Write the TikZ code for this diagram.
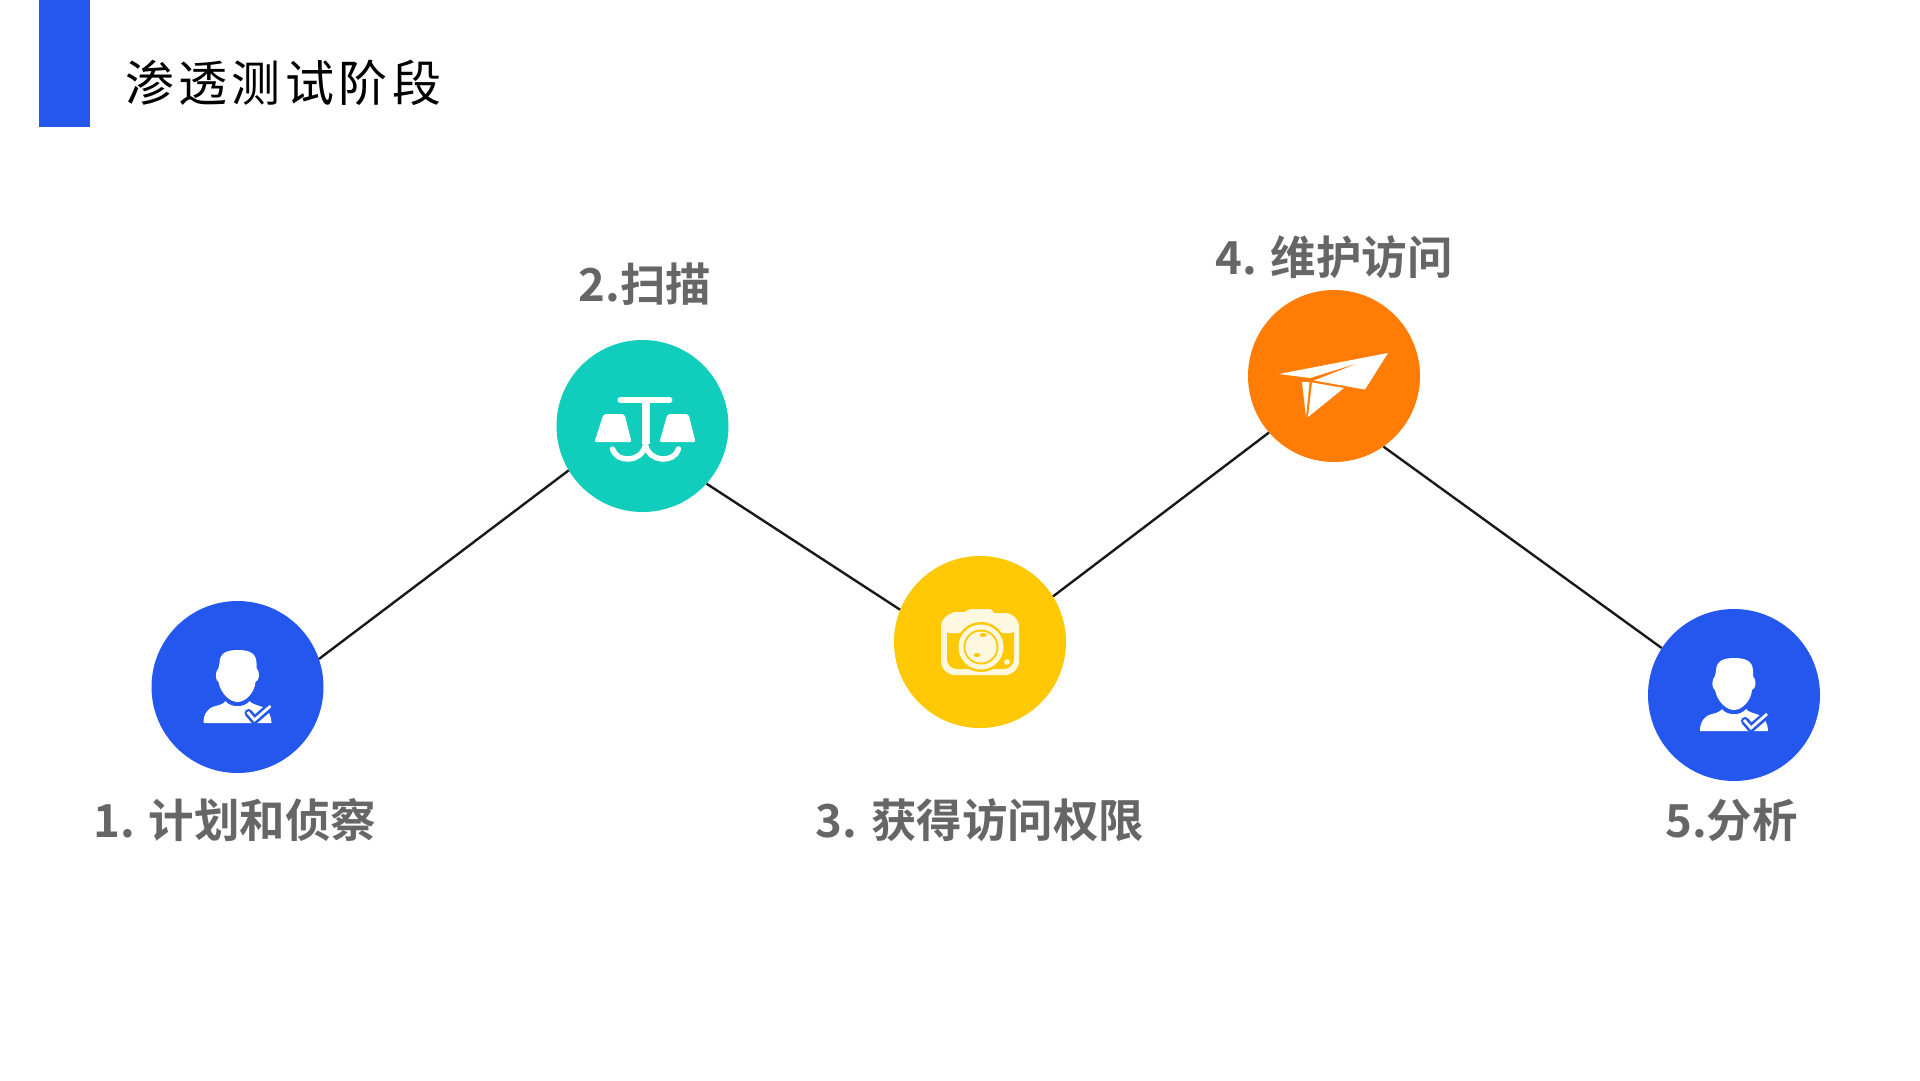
\documentclass[tikz,border=0pt]{standalone}
\usepackage{fontspec}
\setmainfont{Liberation Sans}
\newfontfamily\cjkbold{Noto Sans CJK SC}[BoldFont={Noto Sans CJK SC Bold}]
\newfontfamily\cjktitle{Noto Sans CJK SC}[LetterSpace=9]
\definecolor{cblue}{HTML}{2457EE}
\definecolor{cteal}{HTML}{10CDBC}
\definecolor{cyellow}{HTML}{FFC805}
\definecolor{corange}{HTML}{FF7D05}
\definecolor{cgray}{HTML}{666666}
\colorlet{palewhite}{white!88!cyellow}
\tikzset{
  stage/.style={circle,minimum size=172pt,inner sep=0pt,fill=#1},
  stagelabel/.style={text=cgray,inner sep=0pt,font=\cjkbold\bfseries\fontsize{45.5}{50}\selectfont},
  link/.style={draw=black!90,line width=2.4pt}
}
\begin{document}
\begin{tikzpicture}[x=1pt,y=-1pt]
\useasboundingbox (0,0) rectangle (1920,1080);
\fill[white] (0,0) rectangle (1920,1080);
\fill[cblue] (39,0) rectangle (90,127);
\node[anchor=west,inner sep=0pt,font=\cjktitle\fontsize{49}{54}\selectfont] (title) at (125,82.5) {渗透测试阶段};

\node[stage=cblue] (s1) at (237.5,687) {};
\node[stage=cteal] (s2) at (642.5,426) {};
\node[stage=cyellow] (s3) at (980,642) {};
\node[stage=corange] (s4) at (1334,376) {};
\node[stage=cblue] (s5) at (1734,695) {};

\draw[link] (s1.19) -- (s2.211.4);
\draw[link] (s2.-42) -- (s3.158.2);
\draw[link] (s3.32.3) -- (s4.221.5);
\draw[link] (s4.-55.3) -- (s5.147.5);

\node[stagelabel] (l1) at (235,820) {1. 计划和侦察};
\node[stagelabel] (l2) at (645,284) {2.扫描};
\node[stagelabel] (l3) at (980,820) {3. 获得访问权限};
\node[stagelabel] (l4) at (1334,257) {4. 维护访问};
\node[stagelabel] (l5) at (1731.5,820) {5.分析};

% person icons
\foreach \cx/\cy in {237.5/687,1734/695}{
\begin{scope}[shift={(\cx,\cy)}]
  \fill[white] (-18,-24) .. controls (-18,-35) and (-9,-37) .. (0,-37)
      .. controls (10,-37) and (19,-35) .. (19,-24) -- (19,-19)
      .. controls (23,-15) and (22,-6) .. (18,-5)
      .. controls (17,6) and (8,15) .. (0,15)
      .. controls (-8,15) and (-17,6) .. (-19,-5)
      .. controls (-22,-6) and (-23,-15) .. (-19,-19) -- cycle;
  \fill[white] (-34,36) .. controls (-34,27) and (-30,21) .. (-22,19)
      .. controls (-17,18) and (-13,16) .. (-12,14)
      .. controls (-7,21) and (7,21) .. (12,14)
      .. controls (14,17) and (20,18) .. (25,20)
      .. controls (31,23) and (34,29) .. (34,36) -- cycle;
  \draw[cblue,line width=8pt,line cap=round,line join=round] (11,26) -- (17,33) -- (31,21);
  \draw[white,line width=2.8pt,line cap=butt,line join=miter] (10,25) -- (17,33) -- (33,19);
\end{scope}
}

% scales
\begin{scope}[shift={(642.5,426)}]
  \draw[white,line width=6pt,line cap=round] (-22,-26) -- (27,-26);
  \draw[white,line width=8pt] (3,-26) -- (3,18);
  \draw[white,line width=5.5pt,line cap=round]
    (-30,23) .. controls (-26,37) and (-1,37) .. (3,19);
  \draw[white,line width=5.5pt,line cap=round]
    (36,23) .. controls (32,37) and (7,37) .. (3,19);
  \fill[white,rounded corners=2pt] (-39,-12) -- (-18,-12) -- (-11,16) -- (-48,16) -- cycle;
  \fill[white,rounded corners=2pt] (25,-12) -- (46,-12) -- (53,16) -- (17,16) -- cycle;
\end{scope}

% camera
\begin{scope}[shift={(980,642)}]
  \fill[palewhite,rounded corners=2pt] (-28,-27) -- (-28,-30) -- (-13,-30) -- (-12,-33) -- (12,-33) -- (14,-27) -- cycle;
  \fill[palewhite,rounded corners=14pt] (-39,-29) rectangle (39,33);
  \fill[cyellow,rounded corners=10pt] (-33,-23) rectangle (34,27);
  \fill[palewhite,rounded corners=4pt] (-33,-23) -- (33,-23) -- (35,-9) -- (-35,-9) -- cycle;
  \fill[cyellow] (1,5) circle (25);
  \fill[palewhite] (1,5) circle (22.5);
  \fill[cyellow] (1,5) circle (17.5);
  \fill[palewhite] (1,5) circle (15.5);
  \fill[cyellow] (3,-7) ellipse (3.5 and 2);
  \fill[cyellow] (-3,13) ellipse (3.5 and 2);
  \fill[palewhite] (27,20) circle (2.8);
\end{scope}

% paper plane
\begin{scope}[shift={(1334,376)}]
  \fill[white] (54,-23) -- (-55,-2) -- (-24,2) -- (26,-13.5) -- (-20,4.5) -- (31,13.5) -- cycle;
  \fill[white] (-32,6) -- (-24.5,6) -- (-28,41) -- cycle;
  \fill[white] (-22,6.5) -- (10,12) -- (-26,41) -- cycle;
\end{scope}
\end{tikzpicture}
\end{document}
